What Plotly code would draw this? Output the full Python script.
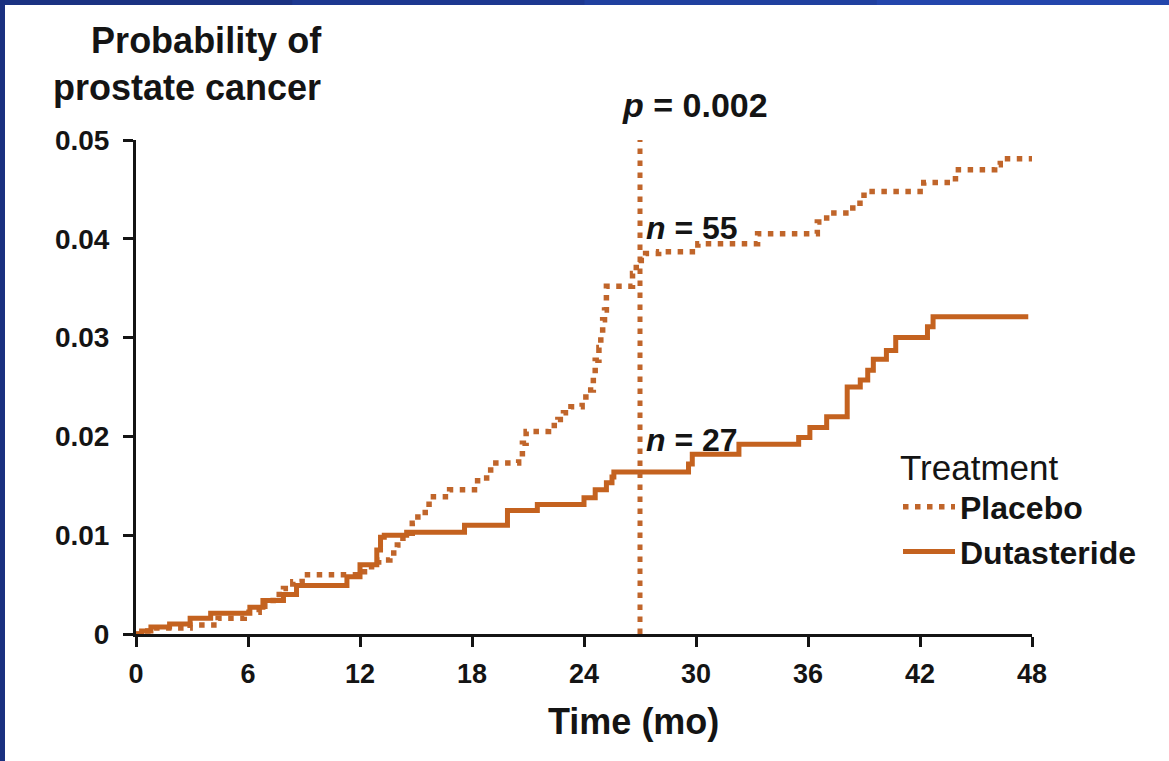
import plotly.graph_objects as go

# ---------------- data ----------------
placebo_t = [0, 0.4, 0.9, 2.9, 4.4, 5.8, 6.6, 6.9, 7.5, 7.9, 8.4, 8.9, 11.9, 12.4, 13.0, 13.6,
             14.0, 14.3, 14.8, 15.1, 15.7, 16.8, 18.3, 19.0, 20.5, 20.7, 20.9, 22.1, 22.6,
             22.9, 23.3, 23.9, 24.1, 24.5, 24.6, 24.8, 24.9, 25.0, 25.1, 25.2, 26.6, 26.8,
             27.3, 28.0, 30.1, 33.3, 36.5, 37.0, 38.4, 39.0, 42.2, 43.9, 46.0, 46.3, 48.0]
placebo_p = [0, 0.0003, 0.0006, 0.0009, 0.0016, 0.0022, 0.0028, 0.0034, 0.0040, 0.0046,
             0.0053, 0.0060, 0.0063, 0.0068, 0.0075, 0.0082, 0.0090, 0.0102, 0.0112, 0.0123,
             0.0139, 0.0146, 0.0158, 0.0173, 0.0179, 0.0193, 0.0205, 0.0211, 0.0217, 0.0224,
             0.0230, 0.0235, 0.0247, 0.0260, 0.0277, 0.0290, 0.0304, 0.0318, 0.0328, 0.0352,
             0.0365, 0.0378, 0.0385, 0.0387, 0.0395, 0.0405, 0.0417, 0.0426, 0.0436, 0.0448,
             0.0457, 0.0470, 0.0475, 0.0481, 0.0481]

dutasteride_t = [0, 0.3, 0.8, 1.8, 2.9, 4.0, 6.1, 6.8, 7.9, 8.6, 11.3, 12.0, 12.9, 13.1, 13.3,
                 14.5, 17.6, 19.9, 21.5, 24.0, 24.6, 25.2, 25.5, 25.6, 29.6, 29.8, 32.3, 35.5,
                 36.1, 37.0, 38.1, 38.8, 39.2, 39.5, 40.2, 40.7, 42.4, 42.7, 47.8]
dutasteride_p = [0, 0.0003, 0.0007, 0.0010, 0.0016, 0.0021, 0.0027, 0.0034, 0.0040, 0.0049,
                 0.0058, 0.0070, 0.0085, 0.0098, 0.0100, 0.0103, 0.0110, 0.0125, 0.0131, 0.0138,
                 0.0146, 0.0153, 0.0159, 0.0164, 0.0172, 0.0182, 0.0192, 0.0199, 0.0209, 0.0220,
                 0.0250, 0.0257, 0.0267, 0.0278, 0.0287, 0.0300, 0.0311, 0.0321, 0.0321]

x_ticks = [0, 6, 12, 18, 24, 30, 36, 42, 48]
y_ticks = [0, 0.01, 0.02, 0.03, 0.04, 0.05]
y_tick_labels = ["0", "0.01", "0.02", "0.03", "0.04", "0.05"]

p_line_t = 27
p_text = "<i>p</i> = 0.002"
n_placebo_text = "<i>n</i> = 55"
n_duta_text = "<i>n</i> = 27"
n_placebo_p = 0.0411
n_duta_p = 0.0196
x_title = "Time (mo)"
y_title = "Probability of<br>prostate cancer"

# ---------------- style ----------------
ORANGE = "#c4621f"
ORANGE_DOT = "#c0652a"
INK = "#141414"
FONT = "Liberation Sans, Arial, sans-serif"
DOT = "5.5px,6.5px"

W, H = 1169, 761
ML, MR, MT, MB = 136, 137, 140, 127
PW, PH = W - ML - MR, H - MT - MB


def px_x(px):
    return (px - ML) / PW


def px_y(py):
    return (H - MB - py) / PH


fig = go.Figure()
fig.add_trace(go.Scatter(
    x=placebo_t, y=placebo_p, mode="lines", name="Placebo",
    line=dict(color=ORANGE_DOT, width=5.5, shape="hv", dash=DOT),
))
fig.add_trace(go.Scatter(
    x=dutasteride_t, y=dutasteride_p, mode="lines", name="Dutasteride",
    line=dict(color=ORANGE, width=5, shape="hv"),
))

# vertical p-value line
fig.add_shape(type="line", xref="x", yref="y", x0=p_line_t, x1=p_line_t, y0=0, y1=0.0503,
              line=dict(color=ORANGE_DOT, width=5, dash=DOT))

# blue frame (top and left)
top_cols = ["#1b3282", "#1d3890", "#20409f", "#2346ac"]
for i, c in enumerate(top_cols):
    fig.add_shape(type="rect", xref="paper", yref="paper", layer="above",
                  x0=px_x(i * W / len(top_cols)), x1=px_x((i + 1) * W / len(top_cols) + 1),
                  y0=px_y(5), y1=px_y(-2), line=dict(width=0), fillcolor=c)
fig.add_shape(type="rect", xref="paper", yref="paper", layer="above",
              x0=px_x(-2), x1=px_x(5), y0=px_y(H + 2), y1=px_y(-2),
              line=dict(width=0), fillcolor="#1a3080")

annotations = [
    dict(text="<b>" + y_title + "</b>", xref="paper", yref="paper",
         x=px_x(324), y=px_y(64), xanchor="right", yanchor="middle", align="right",
         showarrow=False, font=dict(family=FONT, size=36, color=INK)),
    dict(text="<b>" + x_title + "</b>", xref="paper", yref="paper",
         x=px_x(633), y=px_y(721), xanchor="center", yanchor="middle",
         showarrow=False, font=dict(family=FONT, size=36, color=INK)),
    dict(text="<b>" + p_text + "</b>", xref="paper", yref="paper", x=px_x(620), y=px_y(105),
         xanchor="left", yanchor="middle", showarrow=False,
         font=dict(family=FONT, size=34, color=INK)),
    dict(text="<b>" + n_placebo_text + "</b>", xref="x", yref="y", x=p_line_t + 0.2,
         y=n_placebo_p, xanchor="left", yanchor="middle", showarrow=False,
         font=dict(family=FONT, size=32, color=INK)),
    dict(text="<b>" + n_duta_text + "</b>", xref="x", yref="y", x=p_line_t + 0.2,
         y=n_duta_p, xanchor="left", yanchor="middle", showarrow=False,
         font=dict(family=FONT, size=32, color=INK)),
]

fig.update_layout(
    width=W, height=H,
    margin=dict(l=ML, r=MR, t=MT, b=MB, pad=0),
    paper_bgcolor="white", plot_bgcolor="white",
    showlegend=True,
    legend=dict(
        title=dict(text="Treatment",
                   font=dict(family=FONT, size=35, color=INK, weight="normal")),
        font=dict(family=FONT, size=32, color=INK, weight="bold"),
        x=px_x(898), y=px_y(434), xanchor="left", yanchor="top",
        bgcolor="rgba(0,0,0,0)", itemwidth=52, tracegroupgap=0,
    ),
    annotations=annotations,
    xaxis=dict(
        range=[0, 48], tickvals=x_ticks, ticktext=[str(v) for v in x_ticks],
        showgrid=False, zeroline=False, showline=True, linecolor=INK, linewidth=3,
        ticks="outside", ticklen=10, tickwidth=3, tickcolor=INK,
        tickfont=dict(family=FONT, size=27, color=INK, weight="bold"),
        ticklabelstandoff=4,
    ),
    yaxis=dict(
        range=[0, 0.05], tickvals=y_ticks, ticktext=y_tick_labels,
        showgrid=False, zeroline=False, showline=True, linecolor=INK, linewidth=3,
        ticks="outside", ticklen=10, tickwidth=3, tickcolor=INK,
        tickfont=dict(family=FONT, size=28, color=INK, weight="bold"),
        ticklabelstandoff=8,
    ),
)

fig.write_html("out.html", config={"displayModeBar": False},
               post_script="document.body.style.margin='0px';document.body.style.padding='0px';")
